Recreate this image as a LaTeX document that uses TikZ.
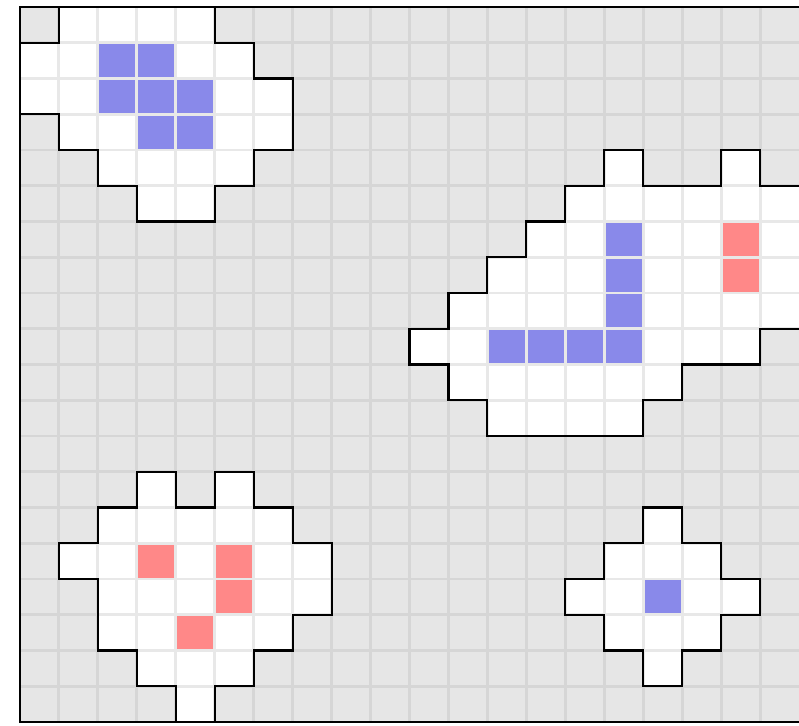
\documentclass[tikz,border=0pt]{standalone}
\usepackage{xcolor}
\usepackage{tikz}
\definecolor{cellgray}{RGB}{230,230,230}
\definecolor{linegray}{RGB}{214,214,214}
\definecolor{linelight}{RGB}{232,232,232}
\definecolor{cellblue}{RGB}{137,137,234}
\definecolor{cellred}{RGB}{255,136,136}

\def\blobA{(1,0) -- (5,0) -- (5,1) -- (6,1) -- (6,2) -- (7,2) -- (7,4) -- (6,4) -- (6,5) -- (5,5) -- (5,6) -- (3,6) -- (3,5) -- (2,5) -- (2,4) -- (1,4) -- (1,3) -- (0,3) -- (0,1) -- (1,1) -- cycle}
\def\blobB{(15,4) -- (16,4) -- (16,5) -- (18,5) -- (18,4) -- (19,4) -- (19,5) -- (20,5) -- (20,9) -- (19,9) -- (19,10) -- (17,10) -- (17,11) -- (16,11) -- (16,12) -- (12,12) -- (12,11) -- (11,11) -- (11,10) -- (10,10) -- (10,9) -- (11,9) -- (11,8) -- (12,8) -- (12,7) -- (13,7) -- (13,6) -- (14,6) -- (14,5) -- (15,5) -- cycle}
\def\blobC{(3,13) -- (4,13) -- (4,14) -- (5,14) -- (5,13) -- (6,13) -- (6,14) -- (7,14) -- (7,15) -- (8,15) -- (8,17) -- (7,17) -- (7,18) -- (6,18) -- (6,19) -- (5,19) -- (5,20) -- (4,20) -- (4,19) -- (3,19) -- (3,18) -- (2,18) -- (2,16) -- (1,16) -- (1,15) -- (2,15) -- (2,14) -- (3,14) -- cycle}
\def\blobD{(16,14) -- (17,14) -- (17,15) -- (18,15) -- (18,16) -- (19,16) -- (19,17) -- (18,17) -- (18,18) -- (17,18) -- (17,19) -- (16,19) -- (16,18) -- (15,18) -- (15,17) -- (14,17) -- (14,16) -- (15,16) -- (15,15) -- (16,15) -- cycle}

\begin{document}
\begin{tikzpicture}[
  x=29.21pt, y=-26.81pt,
  gridline/.style={draw=linegray, line width=2.2pt},
  innerline/.style={draw=linelight, line width=2.2pt},
  outline/.style={draw=black, line width=1.6pt, line join=miter},
  frame/.style={draw=black, line width=1.5pt},
  bluecell/.style={fill=cellblue},
  redcell/.style={fill=cellred}
]
\useasboundingbox (-0.5135,-0.196) rectangle (20,20.084);
\fill[cellgray] (0,0) rectangle (20,20);

% grid
\foreach \i in {1,...,19} {
  \draw[gridline] (\i,0) -- (\i,20);
  \draw[gridline] (0,\i) -- (20,\i);
}

% white regions, with lighter grid inside
\foreach \blob in {\blobA,\blobB,\blobC,\blobD} {
  \begin{scope}
    \clip \blob;
    \fill[white] (0,0) rectangle (20,20);
    \foreach \i in {1,...,19} {
      \draw[innerline] (\i,0) -- (\i,20);
      \draw[innerline] (0,\i) -- (20,\i);
    }
  \end{scope}
}

% marked cells
\foreach \c/\r in {2/1,3/1,2/2,3/2,4/2,3/3,4/3,15/6,15/7,15/8,15/9,12/9,13/9,14/9,16/16}
  \fill[bluecell] (\c+0.04,\r+0.04) rectangle (\c+0.96,\r+0.96);
\foreach \c/\r in {18/6,18/7,3/15,5/15,5/16,4/17}
  \fill[redcell] (\c+0.04,\r+0.04) rectangle (\c+0.96,\r+0.96);

% outlines
\draw[outline] \blobA;
\draw[outline] (20,9) -- (19,9) -- (19,10) -- (17,10) -- (17,11) -- (16,11) -- (16,12) -- (12,12) -- (12,11) -- (11,11) -- (11,10) -- (10,10) -- (10,9) -- (11,9) -- (11,8) -- (12,8) -- (12,7) -- (13,7) -- (13,6) -- (14,6) -- (14,5) -- (15,5) -- (15,4) -- (16,4) -- (16,5) -- (18,5) -- (18,4) -- (19,4) -- (19,5) -- (20,5);
\draw[outline] \blobC;
\draw[outline] \blobD;

% frame
\draw[frame] (20,0) -- (0,0) -- (0,20) -- (20,20);
\end{tikzpicture}
\end{document}
